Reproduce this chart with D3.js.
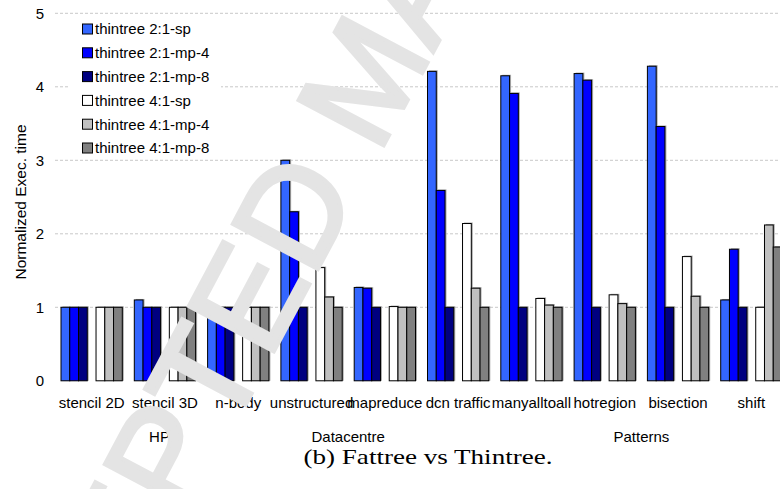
<!DOCTYPE html>
<html>
<head>
<meta charset="utf-8">
<title>Fattree vs Thintree</title>
<script src="https://d3js.org/d3.v7.min.js" charset="utf-8"></script>
<style>
  body { margin: 0; background: #fff; }
  text { font-family: "Liberation Sans", Arial, sans-serif; }
</style>
</head>
<body>
<script>
// categories along the x axis
var categories = ["stencil 2D", "stencil 3D", "n-body", "unstructured", "mapreduce",
                  "dcn traffic", "manyalltoall", "hotregion", "bisection", "shift"];
// group labels and how many category slots each covers (Patterns runs past the crop)
var groupNames = ["HPC", "Datacentre", "Patterns"];
var groupSpans = [3, 2, 6];

var seriesNames = ["thintree 2:1-sp", "thintree 2:1-mp-4", "thintree 2:1-mp-8",
                   "thintree 4:1-sp", "thintree 4:1-mp-4", "thintree 4:1-mp-8"];
var sp21   = [1, 1.1, 1, 3.0, 1.27, 4.21, 4.15, 4.18, 4.28, 1.1];
var mp4_21 = [1, 1, 1, 2.3, 1.26, 2.59, 3.91, 4.09, 3.46, 1.79];
var mp8_21 = [1, 1, 1, 1, 1, 1, 1, 1, 1, 1];
var sp41   = [1, 1, 1, 1.54, 1.01, 2.14, 1.12, 1.17, 1.69, 1.0];
var mp4_41 = [1, 1, 1, 1.14, 1, 1.26, 1.03, 1.05, 1.15, 2.12];
var mp8_41 = [1, 1, 1, 1, 1, 1, 1, 1, 1, 1.82];
var yTicks = [0, 1, 2, 3, 4, 5];

var colors = ["#3366ff", "#0000ff", "#000080", "#ffffff", "#c0c0c0", "#808080"];
var allSeries = [sp21, mp4_21, mp8_21, sp41, mp4_41, mp8_41];

var width = 780, height = 489;
var left = 55, slotW = 73.3, nSlots = 11;

var svg = d3.select("body").append("svg")
    .attr("width", width)
    .attr("height", height);

var y = d3.scaleLinear().domain([0, 5]).range([380.8, 13.3]);
var x = d3.scaleLinear().domain([0, nSlots]).range([left, left + slotW * nSlots]);
// 7 sub slots per category, the middle one left empty
var inner = d3.scaleBand().domain(d3.range(7)).range([6, slotW - 6]);

// grid
svg.append("g").selectAll("line")
    .data(yTicks.filter(function(d) { return d > 0; }))
    .enter().append("line")
    .attr("x1", left).attr("x2", width)
    .attr("y1", function(d) { return y(d); })
    .attr("y2", function(d) { return y(d); })
    .style("stroke", "#c8c8c8")
    .style("stroke-dasharray", "3,2")
    .style("stroke-width", 1);

// y tick labels
svg.append("g").selectAll("text")
    .data(yTicks)
    .enter().append("text")
    .attr("x", 44)
    .attr("y", function(d) { return y(d); })
    .attr("dy", "0.36em")
    .attr("text-anchor", "end")
    .style("font-size", "15px")
    .text(function(d) { return d; });

svg.append("text")
    .attr("transform", "translate(26,202) rotate(-90)")
    .attr("text-anchor", "middle")
    .style("font-size", "15.5px")
    .text("Normalized Exec. time");

// bars
var rows = [];
categories.forEach(function(c, i) {
    allSeries.forEach(function(s, k) {
        rows.push({cat: i, series: k, value: s[i]});
    });
});
function barX(d) { return x(d.cat) + inner(d.series < 3 ? d.series : d.series + 1); }

var bars = svg.append("g");
bars.selectAll("rect.shadow")
    .data(rows)
    .enter().append("rect")
    .attr("class", "shadow")
    .attr("x", function(d) { return barX(d) + 1.5; })
    .attr("y", function(d) { return y(d.value) - 1; })
    .attr("width", inner.bandwidth())
    .attr("height", function(d) { return y(0) - y(d.value) + 1; })
    .style("fill", "#aaa");
bars.selectAll("rect.bar")
    .data(rows)
    .enter().append("rect")
    .attr("class", "bar")
    .attr("x", barX)
    .attr("y", function(d) { return y(d.value); })
    .attr("width", inner.bandwidth())
    .attr("height", function(d) { return y(0) - y(d.value); })
    .style("fill", function(d) { return colors[d.series]; })
    .style("stroke", "#000")
    .style("stroke-width", 1);

// category labels
svg.append("g").selectAll("text")
    .data(categories)
    .enter().append("text")
    .attr("x", function(d, i) { return x(i + 0.5); })
    .attr("y", 408)
    .attr("text-anchor", "middle")
    .style("font-size", "15px")
    .text(function(d) { return d; });

// group labels
var start = 0;
var groupData = groupNames.map(function(g, i) {
    var o = {name: g, a: start, b: start + groupSpans[i]};
    start += groupSpans[i];
    return o;
});
svg.append("g").selectAll("text")
    .data(groupData)
    .enter().append("text")
    .attr("x", function(d) { return (x(d.a) + x(d.b)) / 2; })
    .attr("y", 442)
    .attr("text-anchor", "middle")
    .style("font-size", "15px")
    .text(function(d) { return d.name; });

// legend
var legend = svg.append("g");
legend.append("rect")
    .attr("x", 69).attr("y", 17).attr("width", 152).attr("height", 140)
    .style("fill", "#fff");
var li = legend.selectAll("g.item")
    .data(seriesNames)
    .enter().append("g")
    .attr("class", "item")
    .attr("transform", function(d, i) { return "translate(0," + (29 + i * 23.8) + ")"; });
li.append("rect")
    .attr("x", 82.5).attr("y", -5).attr("width", 10).attr("height", 10)
    .style("fill", function(d, i) { return colors[i]; })
    .style("stroke", "#000");
li.append("text")
    .attr("x", 95).attr("dy", "0.36em")
    .style("font-size", "15px")
    .text(function(d) { return d; });

// caption
svg.append("text")
    .attr("x", 428).attr("y", 464)
    .attr("text-anchor", "middle")
    .attr("textLength", 249)
    .attr("lengthAdjust", "spacingAndGlyphs")
    .style("font-family", "'Liberation Serif', 'DejaVu Serif', serif")
    .style("font-size", "21px")
    .text("(b) Fattree vs Thintree.");

// watermark over the chart
svg.append("text")
    .attr("transform", "translate(2,863) rotate(-62)")
    .style("font-size", "140px")
    .style("fill", "#e4e4e4")
    .style("stroke", "#e4e4e4")
    .style("stroke-width", 4)
    .text("ACCEPTED MANUSCRIPT");
</script>
</body>
</html>
